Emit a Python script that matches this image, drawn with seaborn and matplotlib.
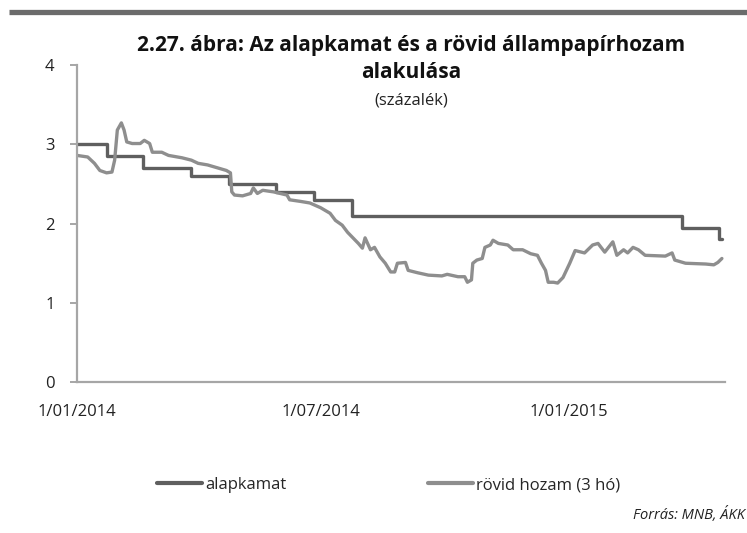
import matplotlib
matplotlib.use("Agg")
import matplotlib.pyplot as plt
from matplotlib.lines import Line2D
import seaborn as sns
import pandas as pd

# ---- data ----
base_dates = ["2014-01-01", "2014-01-23", "2014-02-19", "2014-03-27", "2014-04-24",
              "2014-05-29", "2014-06-26", "2014-07-24", "2015-03-26", "2015-04-23", "2015-04-25"]
base_values = [3.00, 2.85, 2.70, 2.60, 2.50, 2.40, 2.30, 2.10, 1.95, 1.80, 1.80]

yield_dates = ["2014-01-01", "2014-01-09", "2014-01-14", "2014-01-18", "2014-01-23", "2014-01-27",
               "2014-01-29", "2014-01-31", "2014-02-03", "2014-02-05", "2014-02-07", "2014-02-11",
               "2014-02-17", "2014-02-20", "2014-02-24", "2014-02-26", "2014-03-05", "2014-03-10",
               "2014-03-20", "2014-03-27", "2014-04-01", "2014-04-08", "2014-04-16", "2014-04-22",
               "2014-04-25", "2014-04-26", "2014-04-28", "2014-05-04", "2014-05-10", "2014-05-12",
               "2014-05-15", "2014-05-19", "2014-05-27", "2014-06-06", "2014-06-08", "2014-06-16",
               "2014-06-23", "2014-07-01", "2014-07-08", "2014-07-12", "2014-07-17", "2014-07-21",
               "2014-07-25", "2014-07-29", "2014-08-01", "2014-08-03", "2014-08-07", "2014-08-10",
               "2014-08-14", "2014-08-18", "2014-08-22", "2014-08-25", "2014-08-27", "2014-09-02",
               "2014-09-04", "2014-09-11", "2014-09-19", "2014-09-29", "2014-10-03", "2014-10-11",
               "2014-10-16", "2014-10-18", "2014-10-21", "2014-10-22", "2014-10-25", "2014-10-29",
               "2014-10-31", "2014-11-04", "2014-11-06", "2014-11-10", "2014-11-17", "2014-11-21",
               "2014-11-28", "2014-12-04", "2014-12-09", "2014-12-12", "2014-12-15", "2014-12-17",
               "2014-12-21", "2014-12-24", "2014-12-28", "2015-01-02", "2015-01-06", "2015-01-13",
               "2015-01-19", "2015-01-23", "2015-01-28", "2015-02-03", "2015-02-06", "2015-02-11",
               "2015-02-14", "2015-02-18", "2015-02-22", "2015-02-27", "2015-03-14", "2015-03-19",
               "2015-03-21", "2015-03-29", "2015-04-13", "2015-04-19", "2015-04-22", "2015-04-25"]
yield_values = [2.86, 2.84, 2.76, 2.67, 2.64, 2.65,
                2.80, 3.18, 3.27, 3.18, 3.03, 3.01,
                3.01, 3.05, 3.01, 2.90, 2.90, 2.86,
                2.83, 2.80, 2.76, 2.74, 2.70, 2.67,
                2.64, 2.40, 2.36, 2.35, 2.38, 2.45,
                2.38, 2.42, 2.40, 2.36, 2.30, 2.28,
                2.26, 2.20, 2.13, 2.04, 1.98, 1.89,
                1.82, 1.75, 1.69, 1.82, 1.67, 1.70,
                1.58, 1.50, 1.39, 1.39, 1.50, 1.51,
                1.41, 1.38, 1.35, 1.34, 1.36, 1.33,
                1.33, 1.26, 1.29, 1.50, 1.54, 1.56,
                1.70, 1.73, 1.79, 1.75, 1.73, 1.67,
                1.67, 1.62, 1.60, 1.50, 1.41, 1.26,
                1.26, 1.25, 1.32, 1.50, 1.66, 1.63,
                1.73, 1.75, 1.64, 1.77, 1.60, 1.67,
                1.63, 1.70, 1.67, 1.60, 1.59, 1.63,
                1.54, 1.50, 1.49, 1.48, 1.51, 1.56]

y_ticks = [0, 1, 2, 3, 4]
x_tick_dates = ["2014-01-01", "2014-07-01", "2015-01-01"]
x_tick_labels = ["1/01/2014", "1/07/2014", "1/01/2015"]
series_names = ["alapkamat", "rövid hozam (3 hó)"]

title_line1 = "2.27. ábra: Az alapkamat és a rövid állampapírhozam"
title_line2 = "alakulása"
subtitle = "(százalék)"
source = "Forrás: MNB, ÁKK"

# ---- style ----
sns.set_style("white")
plt.rcParams["font.family"] = ["Open Sans", "DejaVu Sans"]

BASE_C = "#5f5f5f"
YIELD_C = "#8e8e8e"
AXIS_C = "#a6a6a6"

base_df = pd.DataFrame({"date": pd.to_datetime(base_dates), "value": base_values})
yield_df = pd.DataFrame({"date": pd.to_datetime(yield_dates), "value": yield_values})

fig = plt.figure(figsize=(7.47, 5.33), dpi=100)
ax = fig.add_axes([0.103, 0.283, 0.867, 0.595])

sns.lineplot(data=base_df, x="date", y="value", ax=ax, color=BASE_C, lw=2.4,
             drawstyle="steps-post", legend=False)
sns.lineplot(data=yield_df, x="date", y="value", ax=ax, color=YIELD_C, lw=2.4,
             legend=False)

ax.set_xlim(pd.Timestamp("2014-01-01"), pd.Timestamp("2015-04-27"))
ax.set_ylim(0, 4)
ax.set_yticks(y_ticks)
ax.set_yticklabels([str(t) for t in y_ticks])
ax.set_xticks(pd.to_datetime(x_tick_dates))
ax.set_xticklabels(x_tick_labels)
ax.set_xlabel("")
ax.set_ylabel("")

for s in ["top", "right"]:
    ax.spines[s].set_visible(False)
for s in ["left", "bottom"]:
    ax.spines[s].set_color(AXIS_C)
    ax.spines[s].set_linewidth(1.6)

ax.tick_params(axis="y", which="both", left=True, length=5, width=1.4, color=AXIS_C,
               labelsize=12, labelcolor="#222222", pad=11)
ax.tick_params(axis="x", which="both", bottom=False, labelsize=12,
               labelcolor="#222222", pad=12)

# top bar
fig.add_artist(Line2D([0.012, 1.0], [0.9775, 0.9775], transform=fig.transFigure,
                      color="#6b6b6b", lw=3.8, solid_capstyle="butt"))

# titles
fig.text(0.55, 0.915, title_line1, ha="center", va="center", fontsize=15,
         fontweight="bold", color="#111111")
fig.text(0.55, 0.864, title_line2, ha="center", va="center", fontsize=15,
         fontweight="bold", color="#111111")
fig.text(0.55, 0.812, subtitle, ha="center", va="center", fontsize=12, color="#222222")

# legend
handles = [Line2D([], [], color=BASE_C, lw=3), Line2D([], [], color=YIELD_C, lw=3)]
fig.legend(handles, series_names, loc="center", bbox_to_anchor=(0.52, 0.09), ncol=2,
           frameon=False, fontsize=12, handlelength=2.7, handletextpad=0.2,
           columnspacing=8.5)

# source
fig.text(0.997, 0.034, source, ha="right", va="center", fontsize=10.5, style="italic",
         color="#222222")

fig.savefig("out.png", dpi=100)
